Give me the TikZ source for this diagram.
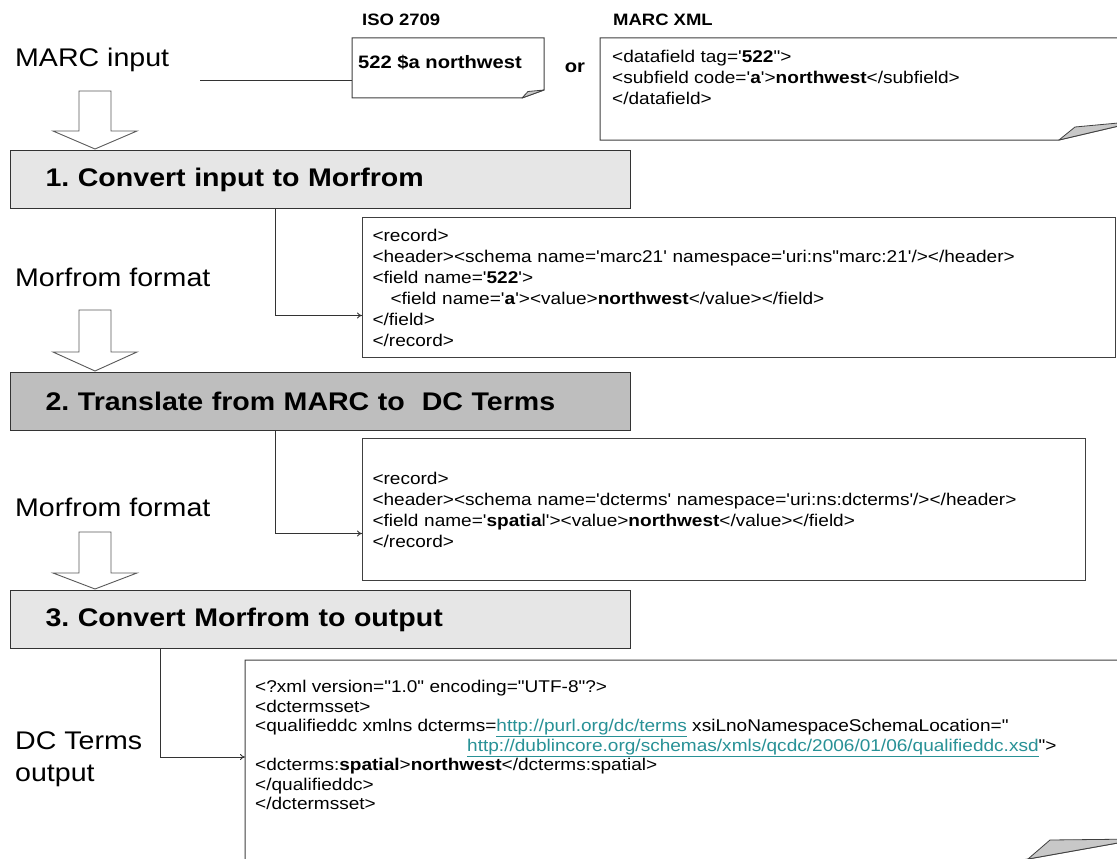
\documentclass[tikz,border=0pt]{standalone}
\usepackage{fontspec}
\setmainfont{Liberation Sans}[FakeStretch=1.12]
\newfontfamily\xmlfont{Liberation Sans}[FakeStretch=1.12]
\usetikzlibrary{arrows.meta}

\definecolor{paleGray}{RGB}{230,230,230}
\definecolor{midGray}{RGB}{190,190,190}
\definecolor{flapGray}{RGB}{200,200,200}
\definecolor{linkTeal}{RGB}{40,145,150}

\newcommand{\ulink}[1]{\textcolor{linkTeal}{\underline{#1}}}

\tikzset{
  biglbl/.style={anchor=west, inner sep=0pt, font=\fontsize{25.5}{32}\selectfont},
  fmtlbl/.style={anchor=west, inner sep=0pt, font=\bfseries\fontsize{16.5}{19}\selectfont},
  stagebox/.style={draw=black!80, line width=1.1pt, anchor=north west, minimum height=58pt,
    text width=550pt, inner xsep=35pt, align=left, font=\bfseries\fontsize{25.5}{30}\selectfont},
  xmlbox/.style={draw=black!75, line width=1pt, fill=white, anchor=north west, align=left,
    inner xsep=10pt, font=\xmlfont\fontsize{17}{21}\selectfont},
  xmltxt/.style={anchor=north west, inner sep=0pt, align=left, font=\xmlfont\fontsize{17}{21}\selectfont},
  paperbox/.style={draw=black!75, line width=1pt, fill=white},
  flap/.style={draw=black!75, line width=0.8pt, fill=flapGray, line join=round},
  conn/.style={draw=black!80, line width=0.8pt, -{To[length=5pt,width=6pt]}},
  hollow/.style={draw=black!65, line width=0.9pt, fill=white},
}

\begin{document}
\frenchspacing
\begin{tikzpicture}[x=1pt,y=-1pt]
\useasboundingbox (0,0) rectangle (1117,859);
\clip (0,0) rectangle (1117,859);
\fill[white] (0,0) rectangle (1117,859);

% input formats
\node[fmtlbl] (isolbl) at (362,20) {ISO 2709};
\node[fmtlbl] (xmllbl) at (613,20) {MARC XML};

\path[paperbox] (352,38) -- (544,38) -- (544,90) -- (522,98) -- (352,98) -- cycle;
\path[flap] (522,98) -- (528,91.5) -- (544,90) -- cycle;
\node[anchor=west, inner sep=0pt, font=\bfseries\fontsize{18}{21}\selectfont] (iso) at (358,62) {522 \$a northwest};

\node[font=\bfseries\fontsize{18}{21}\selectfont] (orw) at (575,68) {or};

\path[paperbox] (600,38) -- (1140,38) -- (1140,121) -- (1059,140) -- (600,140) -- cycle;
\path[flap] (1059,140) -- (1075,127) -- (1140,121) -- cycle;
\node[xmltxt] (mxml) at (612,50) {<datafield tag='\textbf{522}">\\
<subfield code='\textbf{a}'>\textbf{northwest}</subfield>\\
</datafield>};

\node[biglbl] (marcin) at (15,60) {MARC input};
\coordinate (mline) at (200,80);
\coordinate (isoW) at (352,80);
\draw[black!80, line width=0.9pt] (mline) -- (isoW);

% hollow down arrows
\foreach \ytop/\ybase/\ytip in {91/131/149, 310/352/371, 532/573/589}{
  \draw[hollow] (79,\ytop) -- (111,\ytop) -- (111,\ybase) -- (137,\ybase) -- (95,\ytip)
    -- (53,\ybase) -- (79,\ybase) -- cycle;
}

% stages
\node[stagebox, fill=paleGray] (conv1) at (10,150) {1. Convert input to Morfrom};
\node[stagebox, fill=midGray] (trans2) at (10,372) {2. Translate from MARC to\ \ DC Terms};
\node[stagebox, fill=paleGray] (conv3) at (10,590) {3. Convert Morfrom to output};

% morfrom records
\node[xmlbox, text width=733pt, minimum height=140pt] (rec1) at (362,217) {<record>\\
<header><schema name='marc21' namespace='uri:ns"marc:21'/></header>\\
<field name='\textbf{522}'>\\
\hspace*{18pt}<field name='\textbf{a}'><value>\textbf{northwest}</value></field>\\
</field>\\
</record>};
\node[xmlbox, text width=703pt, minimum height=142pt] (rec2) at (362,438) {<record>\\
<header><schema name='dcterms' namespace='uri:ns:dcterms'/></header>\\
<field name='\textbf{spatia}l'><value>\textbf{northwest}</value></field>\\
</record>};

\node[biglbl] (fmt1) at (15,277) {Morfrom format};
\node[biglbl] (fmt2) at (15,507) {Morfrom format};

\draw[conn] ([xshift=265pt]conv1.south west) |- ([yshift=-28pt]rec1.west);
\draw[conn] ([xshift=265pt]trans2.south west) |- ([yshift=-24pt]rec2.west);

% dc terms output
\path[paperbox] (245,660) -- (1140,660) -- (1140,839) -- (989,866) -- (245,866) -- cycle;
\path[flap] (1028,859) -- (1050,840) -- (1140,839) -- cycle;
\node[xmltxt, font=\xmlfont\fontsize{17}{19.5}\selectfont] (dcout) at (255,680) {<?xml version="1.0" encoding="UTF-8"?>\\
<dctermsset>\\
<qualifieddc xmlns dcterms=\ulink{http://purl.org/dc/terms} xsiLnoNamespaceSchemaLocation="\\
\hspace*{212pt}\ulink{http://dublincore.org/schemas/xmls/qcdc/2006/01/06/qualifieddc.xsd}">\\
<dcterms:\textbf{spatial}>\textbf{northwest}</dcterms:spatial>\\
</qualifieddc>\\
</dctermsset>};

\coordinate (dcin) at (245,757);
\draw[conn] ([xshift=150pt]conv3.south west) |- (dcin);

\node[biglbl, align=left] (dcterm) at (15,759) {DC Terms\\output};
\end{tikzpicture}
\end{document}
